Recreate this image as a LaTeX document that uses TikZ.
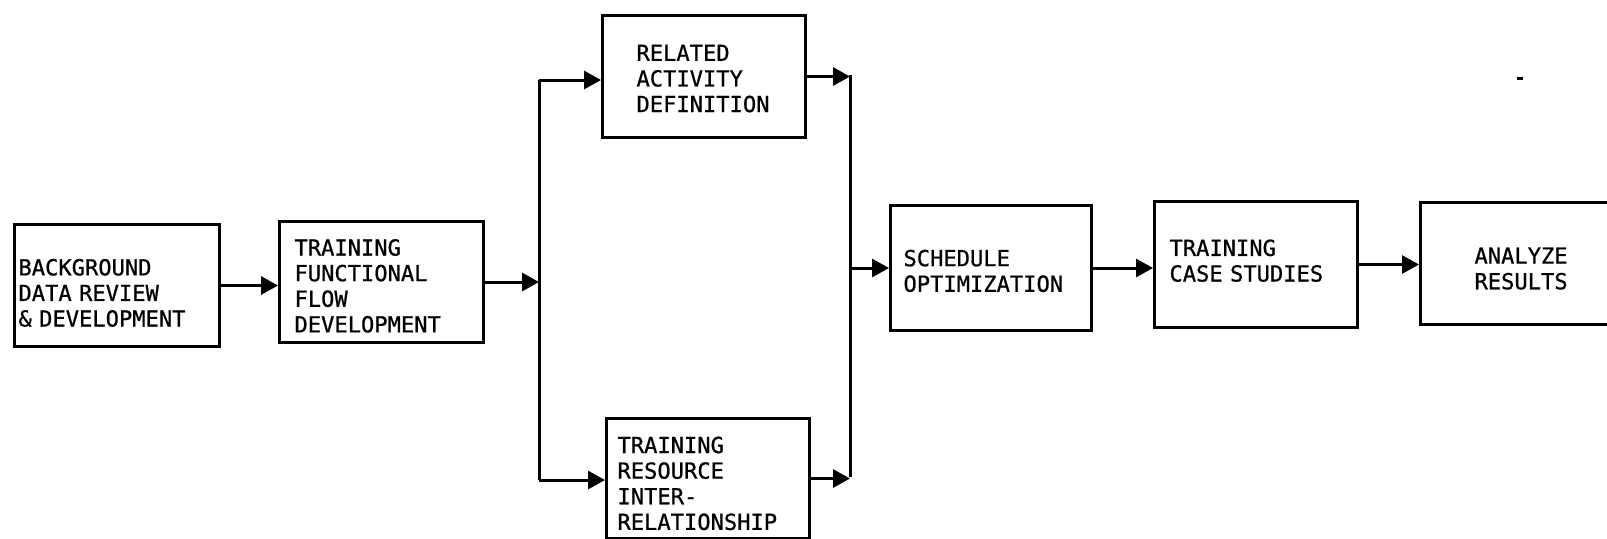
\documentclass[tikz,border=0pt]{standalone}
\usepackage{fontspec}
\newfontfamily\boxfont[FakeBold=0.8]{DejaVu Sans Mono}
\usetikzlibrary{arrows.meta}
\begin{document}
\begin{tikzpicture}[x=0.5pt,y=-0.5pt,
  box/.style={draw, line width=1.5pt, align=left, anchor=north west, inner ysep=0pt,
    font=\boxfont\fontsize{11.05}{12.8}\selectfont},
  arr/.style={line width=1.5pt, -{Triangle[length=8.5pt,width=9pt]}},
  ln/.style={line width=1.5pt}]
\clip (0,0) rectangle (1607,538);
\fill[white] (0,0) rectangle (1607,538);

\node[box, inner xsep=2pt, text width=98.5pt, minimum height=61pt] (bg) at (13,223)
  {\rule{0pt}{15.6pt}BACKGROUND\\DATA REVIEW\\\& DEVELOPMENT};
\node[box, inner xsep=7.5pt, text width=87pt, minimum height=60.5pt] (tff) at (278,220)
  {\rule{0pt}{12.1pt}TRAINING\\FUNCTIONAL\\FLOW\\DEVELOPMENT};
\node[box, inner xsep=17pt, text width=67.5pt, minimum height=61pt] (rel) at (601,14)
  {\rule{0pt}{10.1pt}RELATED\\ACTIVITY\\DEFINITION};
\node[box, inner xsep=5.5pt, text width=90.5pt, minimum height=60pt] (tr) at (605,417)
  {\rule{0pt}{13.1pt}TRAINING\\RESOURCE\\INTER-\\RELATIONSHIP};
\node[box, inner xsep=6.5pt, text width=87.5pt, minimum height=62.5pt] (sched) at (889,204)
  {\rule{0pt}{11.1pt}SCHEDULE\\OPTIMIZATION};
\node[box, inner xsep=7.5pt, text width=86.5pt, minimum height=63pt] (tcs) at (1153,200)
  {TRAINING\\CASE STUDIES\rule[-4pt]{0pt}{4pt}};
\node[box, inner xsep=27pt, text width=49pt, minimum height=61pt] (ana) at (1419,201)
  {\rule{0pt}{13.1pt}ANALYZE\\RESULTS};

\coordinate (sLt) at (539,80);
\coordinate (sLb) at (539,480);
\coordinate (sRt) at (850,75);
\coordinate (sRb) at (850,477);

\draw[arr] (bg.east) -- (bg.east -| tff.west);
\draw[arr] (tff.east) -- (tff.east -| sLt);
\draw[ln] (sLt) -- (sLb);
\draw[arr] (sLt) -- (sLt -| rel.west);
\draw[arr] (sLb) -- (sLb -| tr.west);
\draw[arr] (rel.east) -- (rel.east -| sRt);
\draw[arr] (tr.east) -- (tr.east -| sRt);
\draw[ln] (sRt) -- (sRb);
\draw[arr] (sRt |- sched.west) -- (sched.west);
\draw[arr] (sched.east) -- (sched.east -| tcs.west);
\draw[arr] (tcs.east) -- (tcs.east -| ana.west);

\fill (1517,77) rectangle (1523,80);
\end{tikzpicture}
\end{document}
